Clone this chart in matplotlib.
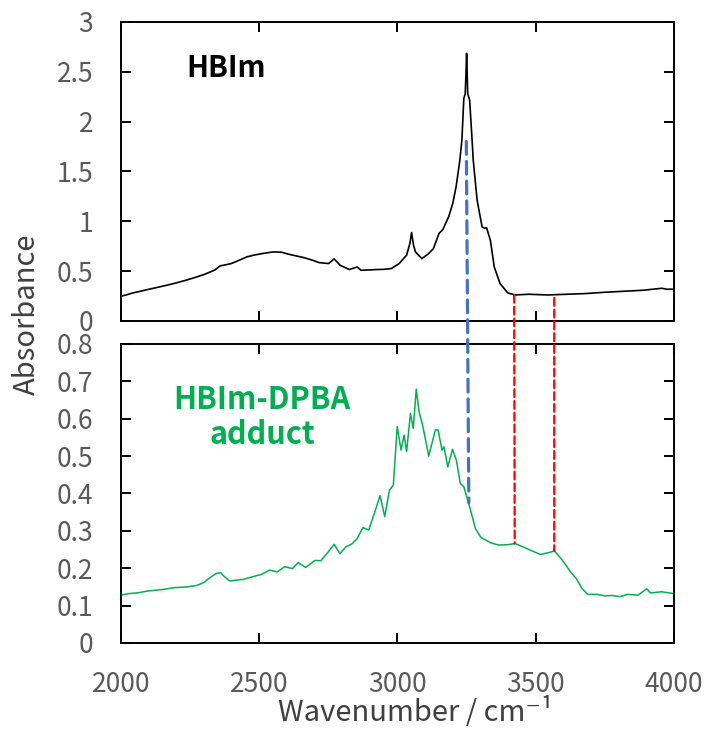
import numpy as np
import matplotlib.pyplot as plt
from matplotlib.patches import ConnectionPatch

plt.rcParams['font.family'] = ['Noto Sans CJK JP', 'DejaVu Sans']

# HBIm spectrum (top panel)
wn_hbim = [2000, 2020, 2041, 2070, 2096, 2130, 2165, 2200, 2234, 2270, 2303, 2340, 2358,
           2399, 2430, 2455, 2480, 2510, 2551, 2580, 2606, 2630, 2661, 2690, 2716, 2751,
           2771, 2792, 2826, 2854, 2868, 2900, 2923, 2950, 2978, 3006, 3033, 3045, 3051,
           3058, 3065, 3088, 3110, 3130, 3150, 3164, 3185, 3200, 3212, 3225, 3233, 3240,
           3245, 3248, 3250, 3252, 3254, 3261, 3268, 3274, 3288, 3306, 3315, 3322, 3336,
           3350, 3371, 3399, 3426, 3474, 3543, 3612, 3680, 3749, 3818, 3887, 3956, 3975,
           4000]
abs_hbim = [0.248, 0.262, 0.280, 0.298, 0.315, 0.336, 0.358, 0.382, 0.408, 0.438, 0.469,
            0.512, 0.552, 0.576, 0.612, 0.643, 0.660, 0.676, 0.693, 0.690, 0.670, 0.655,
            0.636, 0.612, 0.586, 0.576, 0.623, 0.560, 0.516, 0.542, 0.509, 0.512, 0.516,
            0.518, 0.526, 0.576, 0.660, 0.780, 0.887, 0.760, 0.693, 0.626, 0.670, 0.726,
            0.877, 0.917, 1.045, 1.180, 1.346, 1.600, 1.815, 2.233, 2.280, 2.500, 2.685,
            2.500, 2.280, 2.216, 1.900, 1.614, 1.212, 0.944, 0.930, 0.937, 0.810, 0.542,
            0.375, 0.281, 0.261, 0.268, 0.261, 0.268, 0.275, 0.288, 0.298, 0.308, 0.328,
            0.318, 0.320]

# HBIm-DPBA adduct spectrum (bottom panel)
wn_adduct = [2000, 2028, 2060, 2096, 2150, 2193, 2240, 2275, 2300, 2317, 2344, 2361, 2372,
             2393, 2441, 2480, 2510, 2537, 2565, 2592, 2620, 2641, 2668, 2702, 2723, 2750,
             2771, 2792, 2813, 2835, 2854, 2875, 2896, 2916, 2937, 2954, 2971, 2985, 2999,
             3013, 3024, 3033, 3047, 3057, 3068, 3078, 3092, 3113, 3137, 3147, 3161, 3168,
             3182, 3199, 3213, 3227, 3240, 3261, 3282, 3302, 3337, 3365, 3399, 3426, 3454,
             3488, 3516, 3543, 3568, 3598, 3626, 3647, 3667, 3688, 3722, 3750, 3777, 3805,
             3832, 3870, 3901, 3915, 3956, 4000]
abs_adduct = [0.128, 0.132, 0.134, 0.139, 0.143, 0.148, 0.150, 0.154, 0.162, 0.172, 0.186,
              0.188, 0.179, 0.166, 0.170, 0.178, 0.184, 0.195, 0.190, 0.204, 0.199, 0.215,
              0.202, 0.221, 0.220, 0.244, 0.264, 0.239, 0.257, 0.265, 0.279, 0.309, 0.302,
              0.346, 0.394, 0.338, 0.409, 0.422, 0.579, 0.516, 0.556, 0.512, 0.614, 0.574,
              0.679, 0.619, 0.579, 0.500, 0.570, 0.570, 0.516, 0.525, 0.471, 0.518, 0.489,
              0.427, 0.418, 0.364, 0.306, 0.282, 0.268, 0.262, 0.263, 0.266, 0.257, 0.246,
              0.237, 0.241, 0.246, 0.220, 0.190, 0.172, 0.146, 0.130, 0.130, 0.126, 0.127,
              0.124, 0.130, 0.128, 0.145, 0.134, 0.137, 0.132]

xticks = [2000, 2500, 3000, 3500, 4000]
top_yticks = [0, 0.5, 1, 1.5, 2, 2.5, 3]
bot_yticks = [0, 0.1, 0.2, 0.3, 0.4, 0.5, 0.6, 0.7, 0.8]

tick_color = '#595959'
label_color = '#404040'
green = '#00B050'

fig = plt.figure(figsize=(7.07, 7.29), dpi=100)
ax1 = fig.add_axes([0.1711, 0.5597, 0.7822, 0.4102])
ax2 = fig.add_axes([0.1711, 0.1180, 0.7822, 0.4102])

ax1.plot(wn_hbim, abs_hbim, color='black', lw=1.2)
ax2.plot(wn_adduct, abs_adduct, color=green, lw=1.1)

for ax, yt in ((ax1, top_yticks), (ax2, bot_yticks)):
    ax.set_xlim(2000, 4000)
    ax.set_ylim(yt[0], yt[-1])
    ax.set_xticks(xticks)
    ax.set_yticks(yt)
    ax.set_yticklabels(['%g' % v for v in yt])
    ax.tick_params(direction='in', top=True, right=True, length=7, width=1.4,
                   labelsize=19, labelcolor=tick_color, pad=20)
    for s in ax.spines.values():
        s.set_linewidth(1.4)

ax1.tick_params(labelbottom=False)
ax2.set_xticklabels([str(v) for v in xticks])

ax1.text(2235, 2.448, 'HBIm', fontsize=21, fontweight='bold', color='black',
         ha='left', va='baseline')
ax2.text(2510, 0.626, 'HBIm-DPBA', fontsize=22, fontweight='bold', color=green,
         ha='center', va='baseline')
ax2.text(2510, 0.532, 'adduct', fontsize=22, fontweight='bold', color=green,
         ha='center', va='baseline')

fig.text(0.038, 0.569, 'Absorbance', rotation=90, fontsize=21, color=label_color,
         ha='center', va='center')
fig.text(0.588, 0.022, 'Wavenumber / cm\u207b\u00b9', fontsize=21, color=label_color,
         ha='center', va='center')

# guide lines spanning both panels
guides = [((3249, 1.80), (3258, 0.375), '#4472C4', 2.3, (4, 2.2)),
          ((3422, 0.261), (3424, 0.266), '#FF0000', 1.6, (3.5, 1.8)),
          ((3567, 0.231), (3567, 0.246), '#FF0000', 1.6, (3.5, 1.8))]
for pa, pb, c, lw, dash in guides:
    con = ConnectionPatch(xyA=pa, coordsA=ax1.transData, xyB=pb, coordsB=ax2.transData,
                          color=c, lw=lw, linestyle=(0, dash))
    fig.add_artist(con)

fig.savefig('out.png', dpi=100)
